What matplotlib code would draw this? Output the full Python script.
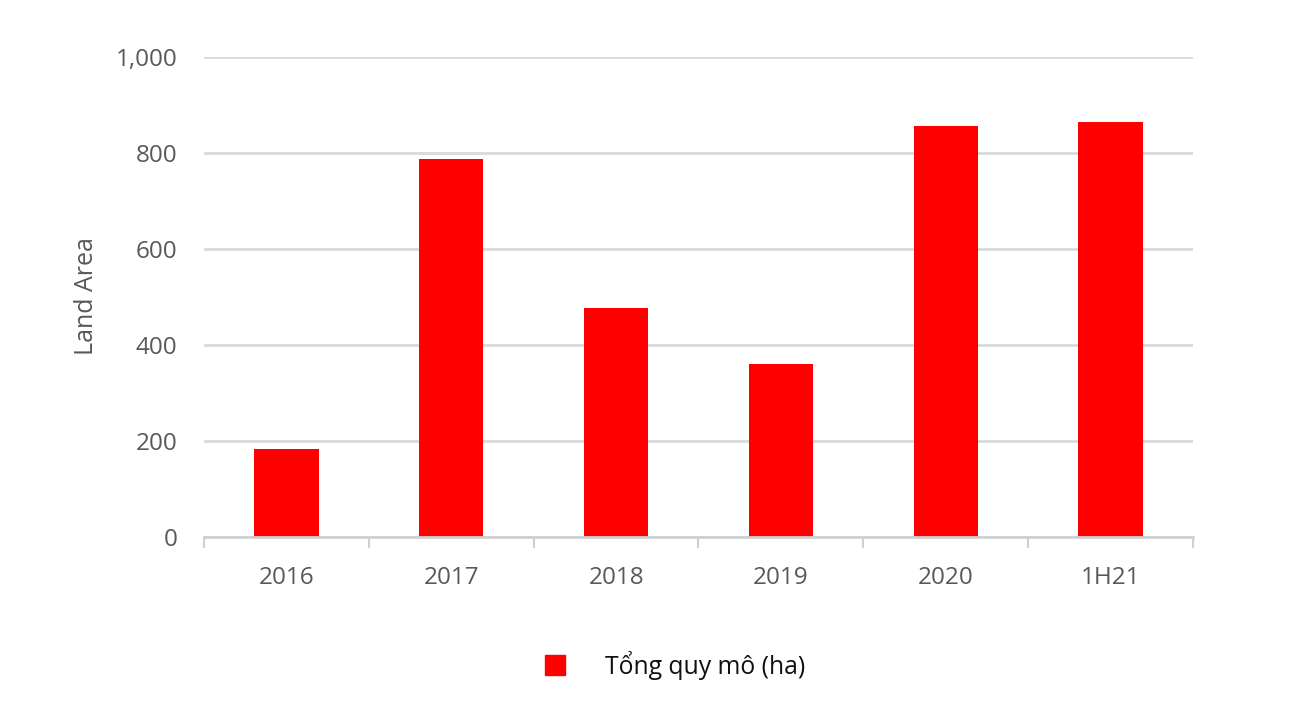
import matplotlib
matplotlib.use("Agg")
import matplotlib.pyplot as plt
from matplotlib.lines import Line2D

categories = ["2016", "2017", "2018", "2019", "2020", "1H21"]
values = [182, 787, 476, 360, 855, 864]
series_name = "Tổng quy mô (ha)"
y_label = "Land Area"
y_ticks = [0, 200, 400, 600, 800, 1000]

fig = plt.figure(figsize=(12.99, 7.17), dpi=100)
ax = fig.add_axes([204/1299, 1-536.5/717, (1193-204)/1299, (536.5-56.7)/717])

x = list(range(len(categories)))
ax.bar(x, values, width=0.39, color="#ff0000", zorder=3)

ax.set_xlim(-0.5, len(categories) - 0.5)
ax.set_ylim(0, 1000)
ax.set_yticks(y_ticks)
ax.set_yticklabels([f"{v:,}" for v in y_ticks], fontfamily="Open Sans", fontsize=17.5, color="#595959")
ax.tick_params(axis="y", length=0, pad=19)
ax.yaxis.grid(True, color="#d9d9d9", linewidth=2, zorder=0)
ax.set_axisbelow(True)

ax.set_xticks(x)
ax.set_xticklabels(categories, fontfamily="Open Sans", fontsize=17.5, color="#595959")
ax.tick_params(axis="x", length=0, pad=21)
ax.set_xticks([i - 0.5 for i in range(len(categories) + 1)], minor=True)
ax.tick_params(axis="x", which="minor", length=8, width=1.5, color="#d0d0d0", direction="out")

for s in ["top", "right", "left"]:
    ax.spines[s].set_visible(False)
ax.spines["bottom"].set_color("#d0d0d0")
ax.spines["bottom"].set_linewidth(2)
ax.spines["bottom"].set_zorder(4)

fig.text(86/1299, 1-296/717, y_label, rotation=90, ha="center", va="center",
         fontfamily="Open Sans", fontsize=18, color="#595959")

handle = Line2D([], [], marker="s", linestyle="none", markersize=14,
                markerfacecolor="#ff0000", markeredgecolor="#ff0000")
fig.legend([handle], [series_name], loc="center", bbox_to_anchor=(0.514, 1-665/717),
           frameon=False, prop={"family": "Open Sans", "size": 17.8},
           handletextpad=1.0, labelcolor="#111111")

fig.savefig("out.png", dpi=100, facecolor="white")
